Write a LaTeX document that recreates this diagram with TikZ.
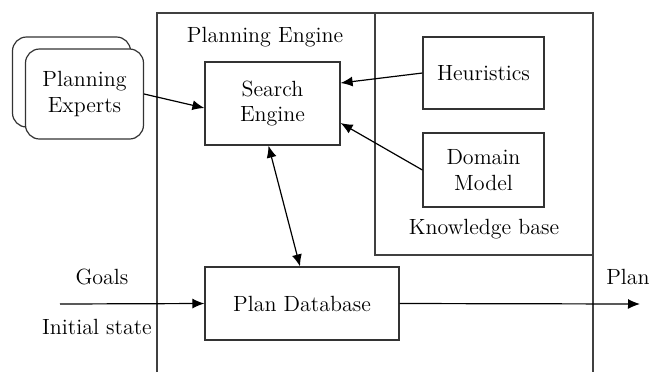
\documentclass[tikz,border=0pt]{standalone}
\usetikzlibrary{arrows.meta,calc}

\begin{document}
\begin{tikzpicture}[x=0.5pt, y=-0.5pt, auto,
    font=\fontsize{11}{13}\selectfont,
    block/.style ={rectangle, draw=black!80, line width=0.6pt, align=center, inner sep=0pt},
    expert/.style ={block, rounded corners=7pt, fill=white, minimum width=59pt, minimum height=45pt},
    link/.style ={line width=0.6pt, -{Latex[length=6pt,width=5pt]}}]
   \useasboundingbox (0,0) rectangle (654,372);
   % engine frame and knowledge base
   \draw[black!75, line width=0.6pt] (157,372) -- (157,13) -- (593,13) -- (593,372);
   \draw[black!75, line width=0.6pt] (375,13) rectangle (593,255);
   \node (engine) at (265,37) {Planning Engine};
   \node (kb) at (484,229) {Knowledge base};
   % blocks
   \node[expert] (back) at (71.5,82) {};
   \node[expert] (experts) at (84.5,94) {Planning\\Experts};
   \node[block, minimum width=67.5pt, minimum height=41.5pt] (search) at (272.5,103.5) {Search\\Engine};
   \node[block, minimum width=60.5pt, minimum height=36pt] (heur) at (483.5,73) {Heuristics};
   \node[block, minimum width=60.5pt, minimum height=37pt] (domain) at (483.5,170) {Domain\\Model};
   \node[block, minimum width=97pt, minimum height=36.5pt] (plandb) at (302,303.5) {Plan Database};
   % inputs and output
   \coordinate (in) at (60,304);
   \coordinate (out) at (640,304);
   \node (goals) at (102,277) {Goals};
   \node (init) at (97,327) {Initial state};
   \node (plan) at (628,277) {Plan};
   % connectors
   \draw[link] (experts.east) -- ($(search.west)+(0,4.5)$);
   \draw[link] (heur.west) -- ($(search.east)+(0,-20.5)$);
   \draw[link] (domain.west) -- ($(search.east)+(0,19.5)$);
   \draw[link, {Latex[length=6pt,width=5pt]}-{Latex[length=6pt,width=5pt]}] ($(search.south)+(-4,0)$) -- ($(plandb.north)+(-2,0)$);
   \draw[link] (in) -- (plandb.west);
   \draw[link] (plandb.east) -- (out);
\end{tikzpicture}
\end{document}
